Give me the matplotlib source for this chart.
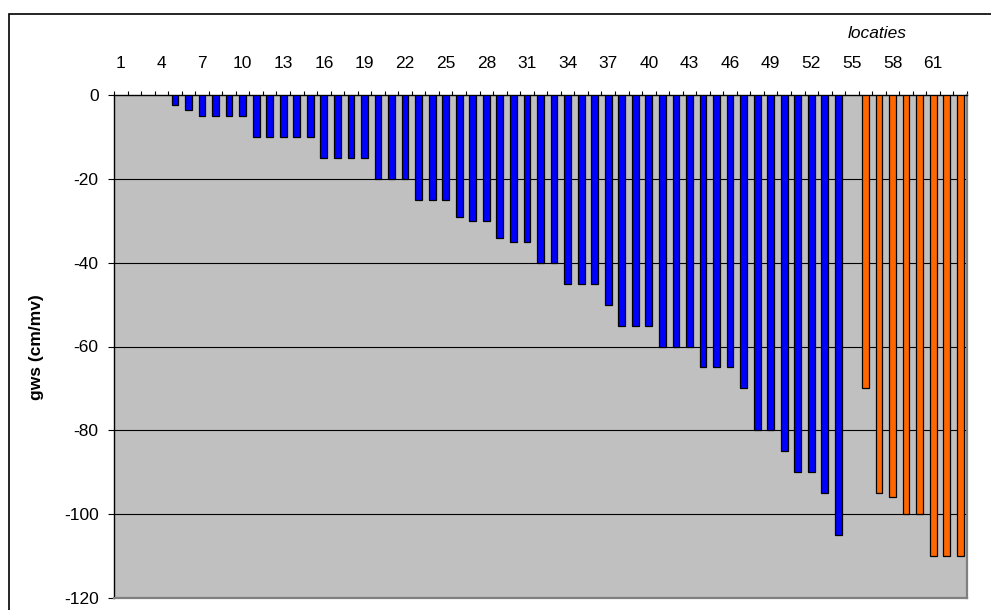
import numpy as np
import matplotlib
matplotlib.use("Agg")
import matplotlib.pyplot as plt
from matplotlib.patches import Rectangle

plt.rcParams['font.family'] = ['Liberation Sans', 'DejaVu Sans']

# groundwater level per location (cm below ground level)
nan = np.nan
locaties = list(range(1, 64))
gws_blauw = [nan, nan, nan, nan, -2.5, -3.5, -5, -5, -5, -5,
             -10, -10, -10, -10, -10, -15, -15, -15, -15, -20,
             -20, -20, -25, -25, -25, -29, -30, -30, -34, -35,
             -35, -40, -40, -45, -45, -45, -50, -55, -55, -55,
             -60, -60, -60, -65, -65, -65, -70, -80, -80, -85,
             -90, -90, -95, -105]
locaties_oranje = [56, 57, 58, 59, 60, 61, 62, 63]
gws_oranje = [-70, -95, -96, -100, -100, -110, -110, -110]
label_locaties = list(range(1, 62, 3))
y_ticks = [0, -20, -40, -60, -80, -100, -120]

W, H = 991, 610
fig = plt.figure(figsize=(W / 100, H / 100), dpi=100)
fig.patch.set_facecolor('white')

# outer chart frame (runs off the right and bottom)
fig.patches.append(Rectangle((9 / W, -0.05), 1.1, 1 - 14 / H + 0.05,
                             transform=fig.transFigure, fill=False,
                             edgecolor='black', linewidth=1.2))

ax = fig.add_axes([114 / W, 1 - 598 / H, (967 - 114) / W, (598 - 95) / H])
ax.set_facecolor('#C0C0C0')

ax.bar(locaties[:len(gws_blauw)], gws_blauw, width=0.5, color='#0000FF',
       edgecolor='black', linewidth=0.9, zorder=3)
ax.bar(locaties_oranje, gws_oranje, width=0.5, color='#FF6600',
       edgecolor='black', linewidth=0.9, zorder=3)

for y in y_ticks[1:-1]:
    ax.axhline(y, color='black', linewidth=0.8, zorder=1)

ax.set_xlim(0.5, 63.5)
ax.set_ylim(-120, 0)

ax.xaxis.tick_top()
ax.set_xticks(label_locaties)
ax.set_xticklabels([str(v) for v in label_locaties], fontsize=12.5)
ax.set_xticks(np.arange(0.5, 64, 1), minor=True)
ax.tick_params(axis='x', which='major', length=0, pad=17)
ax.tick_params(axis='x', which='minor', direction='out', length=3,
               width=0.8, color='black', top=True, bottom=False)

ax.set_yticks(y_ticks)
ax.set_yticklabels([str(v) for v in y_ticks], fontsize=12.5)
ax.tick_params(axis='y', direction='out', length=4, width=0.8, pad=7)

for side in ('top', 'left'):
    ax.spines[side].set_color('black')
    ax.spines[side].set_linewidth(1.0)
for side in ('right', 'bottom'):
    ax.spines[side].set_color('#808080')
    ax.spines[side].set_linewidth(1.6)

fig.text(37 / W, 1 - 347 / H, 'gws (cm/mv)', rotation=90, fontsize=12.5,
         fontweight='bold', ha='center', va='center')
fig.text(877 / W, 1 - 33 / H, 'locaties', fontsize=12.5, style='italic',
         ha='center', va='center')

fig.savefig('out.png', dpi=100)
